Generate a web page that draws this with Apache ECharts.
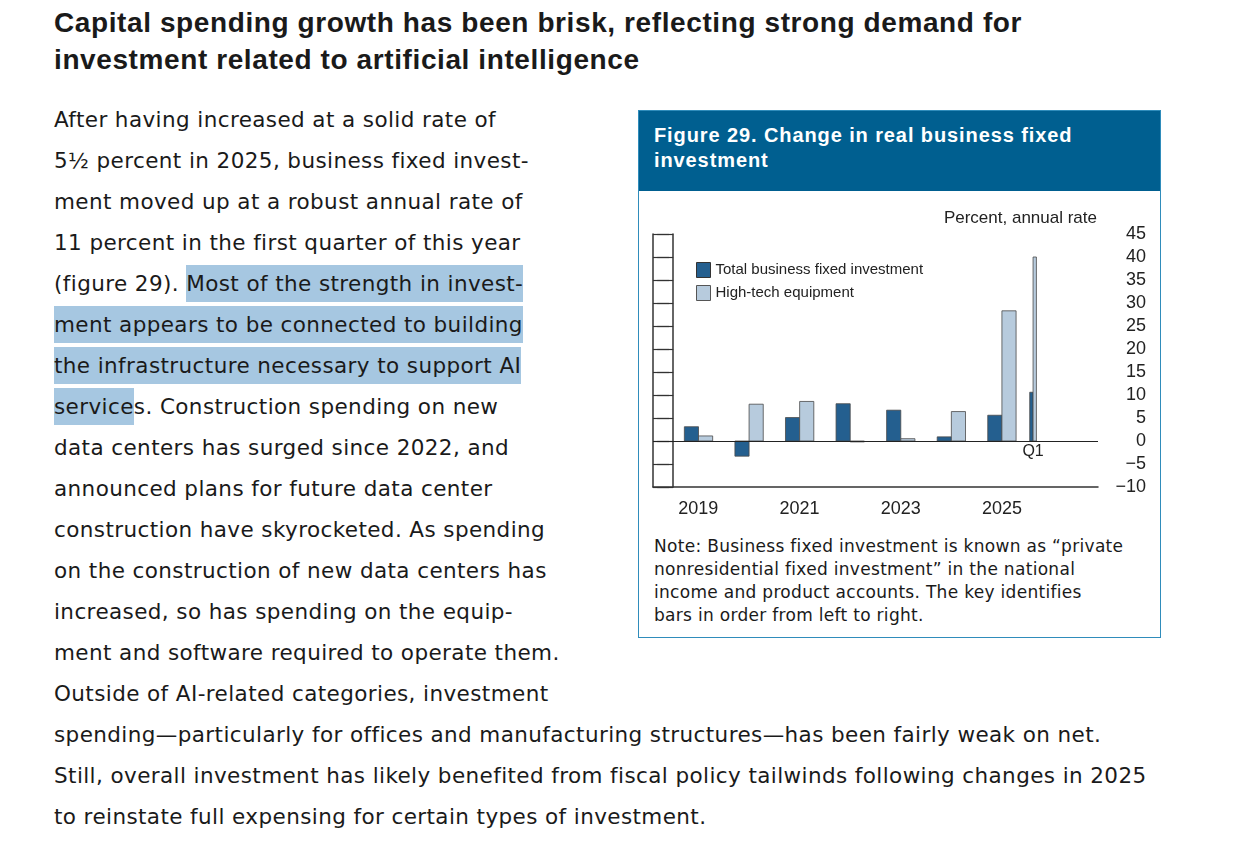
<!DOCTYPE html>
<html><head><meta charset="utf-8">
<script src="https://cdn.jsdelivr.net/npm/echarts@6/dist/echarts.min.js"></script>
<style>
body{margin:0;width:1241px;height:858px;background:#fff;font-family:"Liberation Sans",Arial,sans-serif;color:#1a1a1a;position:relative;overflow:hidden}
#title{position:absolute;left:54px;top:4px;font-weight:bold;font-size:28px;line-height:37px;letter-spacing:0.6px;white-space:nowrap}
.body{position:absolute;left:54px;font-family:"DejaVu Sans",sans-serif;font-size:21.5px;line-height:41px;letter-spacing:0.4px;white-space:nowrap}
.hl{background:#a6c7e1;padding:6px 0}
#panel{position:absolute;left:638px;top:110px;width:523px;height:528px;border:1px solid #2f8cbb;box-sizing:border-box}
#head{position:absolute;left:0;top:0;right:0;height:80px;background:#005f90;color:#fff;font-weight:bold;font-size:20px;line-height:25px;letter-spacing:0.9px;padding:12px 0 0 15px;box-sizing:border-box}
#chart{position:absolute;left:0;top:80px;width:521px;height:335px}
#note{position:absolute;left:15px;top:424px;font-family:"DejaVu Sans",sans-serif;font-size:17px;line-height:23px;letter-spacing:0.3px;white-space:nowrap}
</style></head><body>
<div id="title">Capital spending growth has been brisk, reflecting strong demand for<br>investment related to artificial intelligence</div>
<div class="body" style="top:99px">After having increased at a solid rate of<br>5½ percent in 2025, business fixed invest-<br>ment moved up at a robust annual rate of<br>11 percent in the first quarter of this year<br>(figure 29). <span class="hl">Most of the strength in invest-</span><br><span class="hl">ment appears to be connected to building </span><br><span class="hl">the infrastructure necessary to support AI </span><br><span class="hl">service</span>s. Construction spending on new<br>data centers has surged since 2022, and<br>announced plans for future data center<br>construction have skyrocketed. As spending<br>on the construction of new data centers has<br>increased, so has spending on the equip-<br>ment and software required to operate them.<br>Outside of AI-related categories, investment<br>spending—particularly for offices and manufacturing structures—has been fairly weak on net.<br>Still, overall investment has likely benefited from fiscal policy tailwinds following changes in 2025<br>to reinstate full expensing for certain types of investment.</div>
<div id="panel">
<div id="head">Figure 29. Change in real business fixed<br>investment</div>
<div id="chart"></div>
<div id="note">Note: Business fixed investment is known as “private<br>nonresidential fixed investment” in the national<br>income and product accounts. The key identifies<br>bars in order from left to right.</div>
</div>
<script>
var years = ['2019','2020','2021','2022','2023','2024','2025','2026'];
// annual values 2019-2025, 2026 is Q1 only
var totalBFI = [3.1, -3.3, 5.1, 8.1, 6.7, 0.9, 5.6, 10.6];
var highTech = [1.1, 8.0, 8.6, -0.2, 0.5, 6.4, 28.3, 40.0];
var quarterFlag = [0,0,0,0,0,0,0,1];

var DARK = '#245f8f', LIGHT = '#b7cbdd', FONT = '"Liberation Sans Narrow","Liberation Sans",Arial,sans-serif';

function renderer(side) {
  return function (params, api) {
    var i = api.value(0), v = api.value(1), q = quarterFlag[i];
    var w = q ? 0.066 : 0.28;
    var x0 = q ? i + 0.05 + (side ? w : 0) : i + 0.5 + (side ? 0 : -w);
    var p0 = api.coord([x0, 0]), p1 = api.coord([x0 + w, v]);
    var children = [{
      type: 'rect',
      shape: {x: p0[0], y: Math.min(p0[1], p1[1]), width: p1[0] - p0[0], height: Math.abs(p1[1] - p0[1])},
      style: {fill: side ? LIGHT : DARK, stroke: '#4a4a4a', lineWidth: 0.8}
    }];
    if (q && !side) {
      var pt = api.coord([i + 0.116, -2.4]);
      children.push({type: 'text', x: pt[0], y: pt[1], style: {text: 'Q1', font: '16px ' + FONT, fill: '#222', align: 'center', verticalAlign: 'middle'}});
    }
    return {type: 'group', children: children};
  };
}

var chart = echarts.init(document.getElementById('chart'));
var idx = years.map(function (y, i) { return i; });
var minus = function (v) { return String(v).replace('-', '\u2212'); };
chart.setOption({
  animation: false,
  textStyle: {fontFamily: FONT},
  grid: [
    {left: 14, right: 62, top: 43, bottom: 39},
    {left: 34, right: 82, top: 43, bottom: 39}
  ],
  graphic: [{type: 'text', right: 63, top: 19, style: {text: 'Percent, annual rate', font: '17px ' + FONT, fill: '#222'}}],
  legend: {
    left: 52, top: 66, orient: 'vertical', icon: 'rect', itemWidth: 14, itemHeight: 15, itemGap: 7,
    textStyle: {fontSize: 15, color: '#222', fontFamily: FONT},
    data: [
      {name: 'Total business fixed investment', itemStyle: {color: DARK, borderColor: '#333', borderWidth: 1}},
      {name: 'High-tech equipment', itemStyle: {color: LIGHT, borderColor: '#555', borderWidth: 1}}
    ]
  },
  xAxis: [
    {type: 'value', gridIndex: 0, min: -0.4, max: 8.4, axisLine: {onZero: false, lineStyle: {color: '#333', width: 1.5}}, axisTick: {show: false}, axisLabel: {show: false}, splitLine: {show: false}},
    {type: 'category', gridIndex: 1, data: years, axisLine: {show: false}, axisTick: {inside: true, length: 15, lineStyle: {color: '#333', width: 1.2}}, axisLabel: {fontSize: 18, color: '#222', margin: 13}, splitLine: {show: false}}
  ],
  yAxis: [
    {type: 'value', gridIndex: 0, position: 'right', min: -10, max: 45, interval: 5, axisLine: {show: true, lineStyle: {color: '#333', width: 1.5}}, axisTick: {inside: true, length: 16, lineStyle: {color: '#333', width: 1.2}}, axisLabel: {fontSize: 18, color: '#222', margin: 8, align: 'right', padding: [0, -40, 0, 0], formatter: minus}, splitLine: {show: false}},
    {type: 'value', gridIndex: 0, position: 'left', min: -10, max: 45, interval: 5, axisLine: {show: true, lineStyle: {color: '#333', width: 1.5}}, axisTick: {inside: true, length: 16, lineStyle: {color: '#333', width: 1.2}}, axisLabel: {show: false}, splitLine: {show: false}},
    {type: 'value', gridIndex: 1, min: -10, max: 45, show: false}
  ],
  series: [
    {name: 'Total business fixed investment', type: 'custom', xAxisIndex: 0, yAxisIndex: 0, renderItem: renderer(0),
     data: idx.map(function (i) { return [i, totalBFI[i]]; }),
     markLine: {silent: true, symbol: 'none', label: {show: false}, lineStyle: {color: '#222', width: 1.2, type: 'solid'}, data: [{yAxis: 0}]}},
    {name: 'High-tech equipment', type: 'custom', xAxisIndex: 0, yAxisIndex: 0, renderItem: renderer(1),
     data: idx.map(function (i) { return [i, highTech[i]]; })}
  ]
});
</script>
</body></html>
